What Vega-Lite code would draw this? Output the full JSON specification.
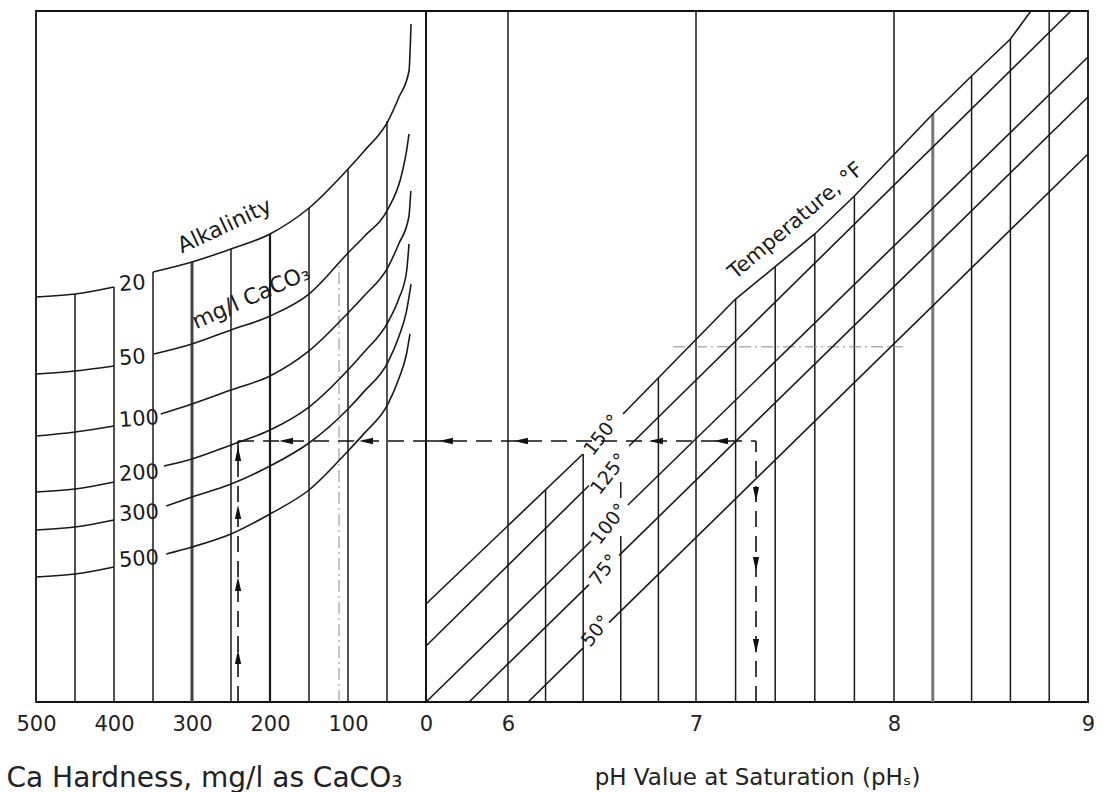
{
  "$schema": "https://vega.github.io/schema/vega-lite/v6.json",
  "background": "white",
  "padding": {"left": 5, "top": 6, "right": 0, "bottom": 0},
  "spacing": 0,
  "bounds": "flush",
  "config": {
    "view": {"stroke": "#111", "strokeWidth": 1.8},
    "axisX": {"domain": false, "ticks": false, "tickSize": 0, "grid": false, "labelFont": "DejaVu Sans", "labelFontSize": 21, "labelColor": "#222", "labelPadding": 11, "labelFlush": false, "titleFont": "DejaVu Sans", "titleFontWeight": "normal", "titleColor": "#222"}
  },
  "datasets": {
    "leftCurves": [
      {"alk": 20, "seg": "a", "h": 500, "lv": 58.61}, {"alk": 20, "seg": "a", "h": 450, "lv": 59.04}, {"alk": 20, "seg": "a", "h": 400, "lv": 60.06},
      {"alk": 20, "seg": "b", "h": 350, "lv": 62.23}, {"alk": 20, "seg": "b", "h": 300, "lv": 63.68}, {"alk": 20, "seg": "b", "h": 250, "lv": 65.56}, {"alk": 20, "seg": "b", "h": 200, "lv": 67.73}, {"alk": 20, "seg": "b", "h": 150, "lv": 71.49}, {"alk": 20, "seg": "b", "h": 100, "lv": 77.13}, {"alk": 20, "seg": "b", "h": 79.5, "lv": 79.71}, {"alk": 20, "seg": "b", "h": 48.7, "lv": 84.08}, {"alk": 20, "seg": "b", "h": 34.6, "lv": 87.55}, {"alk": 20, "seg": "b", "h": 21.8, "lv": 91.32}, {"alk": 20, "seg": "b", "h": 19.2, "lv": 98.12},
      {"alk": 50, "seg": "a", "h": 500, "lv": 47.47}, {"alk": 50, "seg": "a", "h": 450, "lv": 47.9}, {"alk": 50, "seg": "a", "h": 400, "lv": 48.63},
      {"alk": 50, "seg": "b", "h": 349, "lv": 50.36}, {"alk": 50, "seg": "b", "h": 300, "lv": 51.81}, {"alk": 50, "seg": "b", "h": 250, "lv": 53.84}, {"alk": 50, "seg": "b", "h": 200, "lv": 55.86}, {"alk": 50, "seg": "b", "h": 150, "lv": 59.04}, {"alk": 50, "seg": "b", "h": 100, "lv": 64.98}, {"alk": 50, "seg": "b", "h": 79.5, "lv": 67.34}, {"alk": 50, "seg": "b", "h": 48.7, "lv": 71.35}, {"alk": 50, "seg": "b", "h": 32, "lv": 75.98}, {"alk": 50, "seg": "b", "h": 25.6, "lv": 79.31}, {"alk": 50, "seg": "b", "h": 21.8, "lv": 82.2},
      {"alk": 100, "seg": "a", "h": 500, "lv": 38.49}, {"alk": 100, "seg": "a", "h": 450, "lv": 39.07}, {"alk": 100, "seg": "a", "h": 400, "lv": 39.94},
      {"alk": 100, "seg": "b", "h": 340, "lv": 41.68}, {"alk": 100, "seg": "b", "h": 300, "lv": 43.13}, {"alk": 100, "seg": "b", "h": 250, "lv": 45.15}, {"alk": 100, "seg": "b", "h": 200, "lv": 47.18}, {"alk": 100, "seg": "b", "h": 150, "lv": 50.8}, {"alk": 100, "seg": "b", "h": 100, "lv": 56.3}, {"alk": 100, "seg": "b", "h": 79.5, "lv": 58.76}, {"alk": 100, "seg": "b", "h": 48.7, "lv": 62.95}, {"alk": 100, "seg": "b", "h": 35, "lv": 66.28}, {"alk": 100, "seg": "b", "h": 22, "lv": 70.19}, {"alk": 100, "seg": "b", "h": 19.5, "lv": 73.95},
      {"alk": 200, "seg": "a", "h": 500, "lv": 30.39}, {"alk": 200, "seg": "a", "h": 450, "lv": 30.82}, {"alk": 200, "seg": "a", "h": 400, "lv": 31.84},
      {"alk": 200, "seg": "b", "h": 336, "lv": 34.15}, {"alk": 200, "seg": "b", "h": 300, "lv": 35.17}, {"alk": 200, "seg": "b", "h": 250, "lv": 37.19}, {"alk": 200, "seg": "b", "h": 200, "lv": 39.36}, {"alk": 200, "seg": "b", "h": 150, "lv": 42.69}, {"alk": 200, "seg": "b", "h": 100, "lv": 48.05}, {"alk": 200, "seg": "b", "h": 79.5, "lv": 50.62}, {"alk": 200, "seg": "b", "h": 48.7, "lv": 54.99}, {"alk": 200, "seg": "b", "h": 35, "lv": 58.32}, {"alk": 200, "seg": "b", "h": 25, "lv": 62.23}, {"alk": 200, "seg": "b", "h": 21.8, "lv": 66.28},
      {"alk": 300, "seg": "a", "h": 500, "lv": 24.89}, {"alk": 300, "seg": "a", "h": 450, "lv": 25.33}, {"alk": 300, "seg": "a", "h": 400, "lv": 26.34},
      {"alk": 300, "seg": "b", "h": 333, "lv": 28.36}, {"alk": 300, "seg": "b", "h": 300, "lv": 29.67}, {"alk": 300, "seg": "b", "h": 250, "lv": 31.55}, {"alk": 300, "seg": "b", "h": 200, "lv": 34.15}, {"alk": 300, "seg": "b", "h": 150, "lv": 37.48}, {"alk": 300, "seg": "b", "h": 100, "lv": 42.4}, {"alk": 300, "seg": "b", "h": 79.5, "lv": 44.92}, {"alk": 300, "seg": "b", "h": 48.7, "lv": 49.2}, {"alk": 300, "seg": "b", "h": 35, "lv": 52.82}, {"alk": 300, "seg": "b", "h": 25, "lv": 56.58}, {"alk": 300, "seg": "b", "h": 19.2, "lv": 60.49},
      {"alk": 500, "seg": "a", "h": 500, "lv": 18.09}, {"alk": 500, "seg": "a", "h": 450, "lv": 18.52}, {"alk": 500, "seg": "a", "h": 400, "lv": 19.54},
      {"alk": 500, "seg": "b", "h": 333, "lv": 21.42}, {"alk": 500, "seg": "b", "h": 300, "lv": 22.43}, {"alk": 500, "seg": "b", "h": 250, "lv": 24.31}, {"alk": 500, "seg": "b", "h": 200, "lv": 27.21}, {"alk": 500, "seg": "b", "h": 150, "lv": 30.68}, {"alk": 500, "seg": "b", "h": 100, "lv": 36.32}, {"alk": 500, "seg": "b", "h": 79.5, "lv": 38.84}, {"alk": 500, "seg": "b", "h": 48.7, "lv": 43.13}, {"alk": 500, "seg": "b", "h": 35, "lv": 46.74}, {"alk": 500, "seg": "b", "h": 25, "lv": 50.36}, {"alk": 500, "seg": "b", "h": 20.5, "lv": 53.26}
    ],
    "leftV": [
      {"h": 450, "lo": 0, "hi": 59.04}, {"h": 400, "lo": 0, "hi": 60.06}, {"h": 350, "lo": 0, "hi": 62.23}, {"h": 300, "lo": 0, "hi": 63.68}, {"h": 250, "lo": 0, "hi": 65.56}, {"h": 200, "lo": 0, "hi": 67.73}, {"h": 150, "lo": 0, "hi": 71.49}, {"h": 100, "lo": 0, "hi": 77.13}, {"h": 50, "lo": 0, "hi": 84.08}
    ],
    "leftLabels": [
      {"txt": "20", "h": 393.6, "lv": 60.35}, {"txt": "50", "h": 393.6, "lv": 49.64}, {"txt": "100", "h": 393.6, "lv": 40.67}, {"txt": "200", "h": 393.6, "lv": 32.85}, {"txt": "300", "h": 393.6, "lv": 27.06}, {"txt": "500", "h": 393.6, "lv": 20.41}
    ],
    "rightTemps": [
      {"t": 150, "seg": "a", "ph": 5.564, "lv": 14.18}, {"t": 150, "seg": "a", "ph": 6.399, "lv": 35.89},
      {"t": 150, "seg": "b", "ph": 6.612, "lv": 41.68}, {"t": 150, "seg": "b", "ph": 7.2, "lv": 58.32}, {"t": 150, "seg": "b", "ph": 7.4, "lv": 63.0}, {"t": 150, "seg": "b", "ph": 7.6, "lv": 67.73}, {"t": 150, "seg": "b", "ph": 7.8, "lv": 73.23}, {"t": 150, "seg": "b", "ph": 8.2, "lv": 85.09}, {"t": 150, "seg": "b", "ph": 8.4, "lv": 90.59}, {"t": 150, "seg": "b", "ph": 8.6, "lv": 95.95}, {"t": 150, "seg": "b", "ph": 8.706, "lv": 100},
      {"t": 125, "seg": "a", "ph": 5.564, "lv": 8.1}, {"t": 125, "seg": "a", "ph": 6.431, "lv": 31.33},
      {"t": 125, "seg": "b", "ph": 6.644, "lv": 37.05}, {"t": 125, "seg": "b", "ph": 8.912, "lv": 100},
      {"t": 100, "seg": "a", "ph": 5.564, "lv": 0}, {"t": 100, "seg": "a", "ph": 6.442, "lv": 23.3},
      {"t": 100, "seg": "b", "ph": 6.638, "lv": 28.51}, {"t": 100, "seg": "b", "ph": 9, "lv": 93.34},
      {"t": 75, "seg": "a", "ph": 5.793, "lv": 0}, {"t": 75, "seg": "a", "ph": 6.431, "lv": 16.98},
      {"t": 75, "seg": "b", "ph": 6.591, "lv": 21.22}, {"t": 75, "seg": "b", "ph": 9, "lv": 87.55},
      {"t": 50, "seg": "a", "ph": 6.107, "lv": 0}, {"t": 50, "seg": "a", "ph": 6.399, "lv": 7.79},
      {"t": 50, "seg": "b", "ph": 6.537, "lv": 11.48}, {"t": 50, "seg": "b", "ph": 9, "lv": 79.31}
    ],
    "rightV": [
      {"ph": 6.0, "lo": 0, "hi": 100}, {"ph": 6.2, "lo": 0, "hi": 30.71}, {"ph": 6.4, "lo": 0, "hi": 35.89}, {"ph": 6.6, "lo": 0, "hi": 24.02}, {"ph": 6.6, "lo": 29.52, "hi": 31.84}, {"ph": 6.8, "lo": 0, "hi": 46.97}, {"ph": 7.0, "lo": 0, "hi": 100}, {"ph": 7.2, "lo": 0, "hi": 58.32}, {"ph": 7.4, "lo": 0, "hi": 63.0}, {"ph": 7.6, "lo": 0, "hi": 67.73}, {"ph": 7.8, "lo": 0, "hi": 73.23}, {"ph": 8.0, "lo": 0, "hi": 100}, {"ph": 8.2, "lo": 0, "hi": 85.09}, {"ph": 8.4, "lo": 0, "hi": 90.59}, {"ph": 8.6, "lo": 0, "hi": 95.95}, {"ph": 8.8, "lo": 0, "hi": 100}
    ],
    "tempLabels": [
      {"txt": "150°", "ph": 6.5, "lv": 38.64}, {"txt": "125°", "ph": 6.537, "lv": 33.0}, {"txt": "100°", "ph": 6.537, "lv": 25.76}, {"txt": "75°", "ph": 6.511, "lv": 19.1}, {"txt": "50°", "ph": 6.468, "lv": 10.27}
    ]
  },
  "hconcat": [
    {
      "width": 390,
      "height": 691,
      "encoding": {
        "x": {"field": "h", "type": "quantitative", "scale": {"domain": [500, 0], "nice": false, "zero": false},
              "axis": {"values": [500, 400, 300, 200, 100, 0], "title": "Ca Hardness, mg/l as CaCO₃", "titleX": -30, "titleY": 84, "titleAlign": "left", "titleAnchor": "start", "titleBaseline": "alphabetic", "titleFontSize": 28}},
        "y": {"field": "lv", "type": "quantitative", "scale": {"domain": [0, 100], "nice": false, "zero": false}, "axis": null}
      },
      "layer": [
        {
          "data": {"name": "leftV"},
          "mark": {"type": "rule"},
          "encoding": {
            "y": {"field": "lo", "type": "quantitative", "scale": {"domain": [0, 100], "nice": false, "zero": false}, "axis": null},
            "y2": {"field": "hi"},
            "strokeWidth": {"condition": [{"test": "datum.h == 300", "value": 3}, {"test": "datum.h == 200", "value": 2.2}], "value": 1.5},
            "color": {"condition": {"test": "datum.h == 300", "value": "#444"}, "value": "#1a1a1a"}
          }
        },
        {
          "data": {"values": [{"h": 111.5, "lo": 0, "hi": 63.4}]},
          "mark": {"type": "rule", "color": "#8a8a8a", "strokeWidth": 1, "strokeDash": [12, 4, 2, 4]},
          "encoding": {
            "y": {"field": "lo", "type": "quantitative", "scale": {"domain": [0, 100], "nice": false, "zero": false}, "axis": null},
            "y2": {"field": "hi"}
          }
        },
        {
          "data": {"name": "leftCurves"},
          "mark": {"type": "line", "interpolate": "monotone", "color": "#1a1a1a", "strokeWidth": 1.6},
          "encoding": {
            "detail": [{"field": "alk"}, {"field": "seg"}],
            "order": {"field": "h", "sort": "descending"}
          }
        },
        {
          "data": {"name": "leftLabels"},
          "mark": {"type": "text", "align": "left", "baseline": "middle", "font": "DejaVu Sans", "fontSize": 21, "color": "#1a1a1a", "angle": -4},
          "encoding": {"text": {"field": "txt"}}
        },
        {
          "data": {"values": [{"txt": "Alkalinity", "h": 258.3, "lv": 68.9}]},
          "mark": {"type": "text", "align": "center", "baseline": "middle", "font": "DejaVu Sans", "fontSize": 22, "color": "#1a1a1a", "angle": -25},
          "encoding": {"text": {"field": "txt"}}
        },
        {
          "data": {"values": [{"txt": "mg/l CaCO₃", "h": 224.4, "lv": 58.6}]},
          "mark": {"type": "text", "align": "center", "baseline": "middle", "font": "DejaVu Sans", "fontSize": 22, "color": "#1a1a1a", "angle": -24},
          "encoding": {"text": {"field": "txt"}}
        },
        {
          "data": {"values": [{"h": 241, "lo": 0, "hi": 37.77}]},
          "mark": {"type": "rule", "color": "#111", "strokeWidth": 1.6, "strokeDash": [16, 9]},
          "encoding": {
            "y": {"field": "lo", "type": "quantitative", "scale": {"domain": [0, 100], "nice": false, "zero": false}, "axis": null},
            "y2": {"field": "hi"}
          }
        },
        {
          "data": {"values": [{"h": 241, "h2": 0, "lv": 37.77}]},
          "mark": {"type": "rule", "color": "#111", "strokeWidth": 1.6, "strokeDash": [16, 9]},
          "encoding": {"x2": {"field": "h2"}}
        },
        {
          "data": {"values": [{"h": 241, "lv": 35.89}, {"h": 241, "lv": 27.5}, {"h": 241, "lv": 17.08}, {"h": 241, "lv": 6.51}]},
          "mark": {"type": "point", "shape": "M0,-1L0.45,1L-0.45,1Z", "filled": true, "color": "#111", "size": 196, "opacity": 1}
        },
        {
          "data": {"values": [{"h": 179.5, "lv": 37.77}, {"h": 76.9, "lv": 37.77}]},
          "mark": {"type": "point", "shape": "M-1,0L1,-0.45L1,0.45Z", "filled": true, "color": "#111", "size": 196, "opacity": 1}
        }
      ]
    },
    {
      "width": 662,
      "height": 691,
      "encoding": {
        "x": {"field": "ph", "type": "quantitative", "scale": {"domain": [5.564, 7, 8, 9], "range": [0, 270, 468, 662], "nice": false, "zero": false},
              "axis": {"values": [6, 7, 8, 9], "title": "pH Value at Saturation (pHₛ)", "titleY": 82, "titleBaseline": "alphabetic", "titleFontSize": 23}},
        "y": {"field": "lv", "type": "quantitative", "scale": {"domain": [0, 100], "nice": false, "zero": false}, "axis": null}
      },
      "layer": [
        {
          "data": {"name": "rightV"},
          "mark": {"type": "rule"},
          "encoding": {
            "y": {"field": "lo", "type": "quantitative", "scale": {"domain": [0, 100], "nice": false, "zero": false}, "axis": null},
            "y2": {"field": "hi"},
            "strokeWidth": {"condition": {"test": "datum.ph == 8.2", "value": 3}, "value": 1.5},
            "color": {"condition": {"test": "datum.ph == 8.2", "value": "#777"}, "value": "#1a1a1a"}
          }
        },
        {
          "data": {"values": [{"ph": 6.878, "ph2": 8.046, "lv": 51.4}]},
          "mark": {"type": "rule", "color": "#8a8a8a", "strokeWidth": 1, "strokeDash": [12, 4, 2, 4]},
          "encoding": {"x2": {"field": "ph2"}}
        },
        {
          "data": {"name": "rightTemps"},
          "mark": {"type": "line", "color": "#1a1a1a", "strokeWidth": 1.6},
          "encoding": {
            "detail": [{"field": "t"}, {"field": "seg"}],
            "order": {"field": "ph", "sort": "ascending"}
          }
        },
        {
          "data": {"name": "tempLabels"},
          "mark": {"type": "text", "align": "center", "baseline": "middle", "font": "DejaVu Sans", "fontSize": 19, "color": "#1a1a1a", "angle": -52},
          "encoding": {"text": {"field": "txt"}}
        },
        {
          "data": {"values": [{"txt": "Temperature, °F", "ph": 7.505, "lv": 69.6}]},
          "mark": {"type": "text", "align": "center", "baseline": "middle", "font": "DejaVu Sans", "fontSize": 21, "color": "#1a1a1a", "angle": -40},
          "encoding": {"text": {"field": "txt"}}
        },
        {
          "data": {"values": [{"ph": 5.564, "ph2": 7.303, "lv": 37.77}]},
          "mark": {"type": "rule", "color": "#111", "strokeWidth": 1.6, "strokeDash": [16, 9]},
          "encoding": {"x2": {"field": "ph2"}}
        },
        {
          "data": {"values": [{"ph": 7.303, "lo": 0, "hi": 37.77}]},
          "mark": {"type": "rule", "color": "#111", "strokeWidth": 1.6, "strokeDash": [16, 9]},
          "encoding": {
            "y": {"field": "lo", "type": "quantitative", "scale": {"domain": [0, 100], "nice": false, "zero": false}, "axis": null},
            "y2": {"field": "hi"}
          }
        },
        {
          "data": {"values": [{"ph": 5.67, "lv": 37.77}, {"ph": 6.069, "lv": 37.77}, {"ph": 6.787, "lv": 37.77}, {"ph": 7.126, "lv": 37.77}]},
          "mark": {"type": "point", "shape": "M-1,0L1,-0.45L1,0.45Z", "filled": true, "color": "#111", "size": 196, "opacity": 1}
        },
        {
          "data": {"values": [{"ph": 7.303, "lv": 30.1}, {"ph": 7.303, "lv": 19.97}, {"ph": 7.303, "lv": 8.1}]},
          "mark": {"type": "point", "shape": "M0,1L0.45,-1L-0.45,-1Z", "filled": true, "color": "#111", "size": 196, "opacity": 1}
        }
      ]
    }
  ]
}
